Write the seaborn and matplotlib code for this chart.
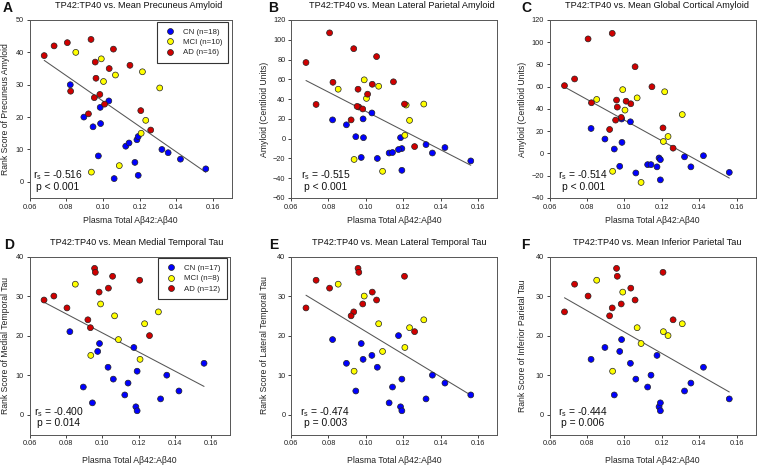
import numpy as np
import pandas as pd
import matplotlib
matplotlib.use("Agg")
import matplotlib.pyplot as plt
import seaborn as sns

nan = np.nan

# ---------------- data ----------------
groups = ["CN", "MCI", "AD"]
group_colors = ["#0000ff", "#ffff00", "#d00000"]

# plasma total Abeta42:Abeta40 per subject (same subjects in every panel)
cn_x = [0.0822, 0.1032, 0.0985, 0.0896, 0.0946, 0.0987, 0.0975, 0.1061, 0.1124,
        0.1142, 0.1185, 0.1192, 0.1174, 0.1192, 0.1321, 0.1355, 0.1422, 0.1560]
mci_x = [0.0852, 0.0991, 0.1003, 0.1068, 0.1215, 0.1309, 0.1233, 0.1208, 0.1089, 0.0937]
ad_x = [0.0680, 0.0734, 0.0806, 0.0935, 0.1057, 0.0958, 0.1034, 0.1147, 0.0962,
        0.0824, 0.0983, 0.0953, 0.1009, 0.0921, 0.1206, 0.1260]

# A: rank score of precuneus amyloid
a_cn = [30, 25, 23, 20, 17, 18, 8, 1, 11, 12, 13, 14, 6, 2, 10, 9, 7, 4]
a_mci = [40, 38, 31, 33, 34, 29, 19, 15, 5, 3]
a_ad = [39, 42, 43, 44, 41, 37, 35, 36, 32, 28, 27, 26, 24, 21, 22, 16]

# B: lateral parietal amyloid (Centiloid)
b_cn = [19, 26, 20, 14, 2, 1, -19, -20, -14.5, -14, 1, -10, -11, -32, -6, -14.5, -9, -22.5]
b_mci = [50, 59.5, 40.7, 53, 34, 35, 18.5, 3.4, -33, -21]
b_ad = [77, 34.6, 107, 91, 83, 50, 55, 57.5, 32, 57, 30, 32.6, 45, 19, 35, -8]

# C: global cortical amyloid (Centiloid)
c_cn = [22.5, 28.5, 31, 13, 4, 10, -11.5, -17.5, -10, -10, -4, -5.5, -12, -23.7, -3, -12, -2, -17]
c_mci = [48.6, 57.4, 39, 50, 55.5, 35, 15.3, 10.8, -26, -16]
c_ad = [61, 67, 103, 108, 78, 48, 44.7, 60, 41.7, 45.6, 32.4, 30, 47, 21.6, 23, 4.8]

# D: rank score of medial temporal tau
d_cn = [21, 12, 18, 7, 3, nan, 16, 9, 5, 8, 2, 11, 17, 1, 4, 10, 6, 13]
d_mci = [33, 28, nan, 25, nan, 26, 23, 14, 19, 15]
d_ad = [29, 30, 27, 22, 35, 37, 32, nan, 36, nan, 31, nan, nan, 24, 34, 20]

# E: rank score of lateral temporal tau
e_cn = [19, 15, 14, 13, 6, nan, 18, 12, 3, 7, 2, 9, 20, 1, 4, 10, 8, 5]
e_mci = [33, 30, nan, 23, nan, 24, 22, 17, 16, 11]
e_ad = [27, 34, 32, 26, 29, 37, 31, nan, 36, nan, 28, nan, nan, 25, 35, 21]

# F: rank score of inferior parietal tau
f_cn = [14, 13, 19, 17, 5, nan, 16, 9, 7, 10, 2, 3, 15, 1, 6, 8, 12, 4]
f_mci = [34, 31, nan, 22, nan, 23, 20, 21, 18, 11]
f_ad = [26, 33, 30, 27, 29, 37, 32, nan, 35, nan, 28, nan, nan, 25, 36, 24]

letters = ["A", "B", "C", "D", "E", "F"]
titles = ["TP42:TP40 vs. Mean Precuneus Amyloid",
          "TP42:TP40 vs. Mean Lateral Parietal Amyloid",
          "TP42:TP40 vs. Mean Global Cortical Amyloid",
          "TP42:TP40 vs. Mean Medial Temporal Tau",
          "TP42:TP40 vs. Mean Lateral Temporal Tau",
          "TP42:TP40 vs. Mean Inferior Parietal Tau"]
ylabels = ["Rank Score of Precuneus Amyloid",
           "Amyloid (Centiloid Units)",
           "Amyloid (Centiloid Units)",
           "Rank Score of Medial Temporal Tau",
           "Rank Score of Lateral Temporal Tau",
           "Rank Score of Inferior Parietal Tau"]
xlabel = "Plasma Total A\u03b242:A\u03b240"
rs_text = ["-0.516", "-0.515", "-0.514", "-0.400", "-0.474", "-0.444"]
p_text = ["p < 0.001", "p < 0.001", "p < 0.001", "p = 0.014", "p = 0.003", "p = 0.006"]
legend_n = {0: [18, 10, 16], 3: [17, 8, 12]}
yticks_list = [np.arange(0, 51, 10), np.arange(-60, 121, 20), np.arange(-40, 121, 20),
               np.arange(0, 41, 10), np.arange(0, 41, 10), np.arange(0, 41, 10)]
ylims = [(-5, 50), (-60, 120), (-40, 120), (-5, 40), (-5, 40), (-5, 40)]
xticks = [0.06, 0.08, 0.10, 0.12, 0.14, 0.16]

panel_y = [(a_cn, a_mci, a_ad), (b_cn, b_mci, b_ad), (c_cn, c_mci, c_ad),
           (d_cn, d_mci, d_ad), (e_cn, e_mci, e_ad), (f_cn, f_mci, f_ad)]

# ---------------- style ----------------
sns.set_theme(style="white")
plt.rcParams["font.family"] = ["Liberation Sans", "DejaVu Sans"]
plt.rcParams["mathtext.fontset"] = "custom"
plt.rcParams["mathtext.rm"] = "Liberation Sans"
plt.rcParams["mathtext.it"] = "Liberation Sans:italic"

W, H = 758, 466
fig = plt.figure(figsize=(W / 100, H / 100), dpi=100)

# axes frames in pixels: (left, top, width, height)
frames = [(29.5, 20, 202, 178), (291, 20, 206, 178), (549.5, 20, 206, 178),
          (29.5, 256.5, 200, 178), (291, 256.5, 206, 178), (549.5, 256.5, 206, 178)]
title_x = [0.542, 0.537, 0.522, 0.536, 0.524, 0.522]
letter_x = [-0.106, -0.085, -0.114, -0.10, -0.085, -0.117]
stat_x = [0.141, 0.167, 0.163, 0.147, 0.166, 0.163]
ylabel_x = [-0.098, -0.105, -0.108, -0.098, -0.105, -0.108]
xlabel_y = [-0.10, -0.10, -0.10, -0.118, -0.118, -0.118]

edge = "#333333"
for i in range(6):
    l, t, w, h = frames[i]
    ax = fig.add_axes([l / W, 1 - (t + h) / H, w / W, h / H])
    ys = panel_y[i]
    if i in legend_n:
        labels = [f"{g} (n={n})" for g, n in zip(groups, legend_n[i])]
    else:
        labels = groups
    df = pd.DataFrame({
        "x": cn_x + mci_x + ad_x,
        "y": list(ys[0]) + list(ys[1]) + list(ys[2]),
        "group": [labels[0]] * len(cn_x) + [labels[1]] * len(mci_x) + [labels[2]] * len(ad_x),
    }).dropna()
    sns.regplot(data=df, x="x", y="y", scatter=False, ci=None, truncate=True,
                line_kws=dict(color="#555555", lw=0.75), ax=ax)
    sns.scatterplot(data=df, x="x", y="y", hue="group", hue_order=labels,
                    palette=dict(zip(labels, group_colors)), s=18,
                    edgecolor="#222222", linewidth=0.5, legend=(i in legend_n),
                    ax=ax, zorder=3)
    ax.set_xlim(0.06, 0.17)
    ax.set_ylim(*ylims[i])
    ax.set_xticks(xticks)
    ax.set_xticklabels([f"{v:.2f}" for v in xticks])
    ax.set_yticks(yticks_list[i])
    ax.tick_params(axis="both", which="major", direction="out", length=2.5, width=0.6,
                   labelsize=5.3, pad=1.5, colors="#222222", bottom=True, left=True)
    for sp in ax.spines.values():
        sp.set_color("#555555")
        sp.set_linewidth(0.7)
    ax.set_xlabel(xlabel, fontsize=6.2, color="#222222")
    ax.set_ylabel(ylabels[i], fontsize=6.2, color="#222222")
    ax.xaxis.set_label_coords(0.5, xlabel_y[i])
    ax.yaxis.set_label_coords(ylabel_x[i], 0.5)
    ax.text(title_x[i], 1.08, titles[i], transform=ax.transAxes, ha="center",
            va="center", fontsize=6.6, color="#111111")
    ax.text(letter_x[i], 1.065, letters[i], transform=ax.transAxes, ha="center",
            va="center", fontsize=10, fontweight="bold", color="#111111")
    ax.text(stat_x[i], 0.128, r"r$_\mathregular{s}$ = " + rs_text[i], transform=ax.transAxes,
            ha="center", va="center", fontsize=7.4, color="#111111")
    ax.text(stat_x[i], 0.064, p_text[i], transform=ax.transAxes,
            ha="center", va="center", fontsize=7.4, color="#111111")
    if i in legend_n:
        leg = ax.legend(loc="upper right", bbox_to_anchor=(0.985, 0.99), fontsize=5.7,
                        frameon=True, fancybox=False, borderpad=0.8, labelspacing=0.35,
                        handlelength=1.7, handletextpad=0.8, borderaxespad=0.0,
                        title=None)
        leg.get_frame().set_edgecolor("#333333")
        leg.get_frame().set_linewidth(0.8)
        leg.get_frame().set_alpha(1)

fig.savefig("out.png", dpi=100)
